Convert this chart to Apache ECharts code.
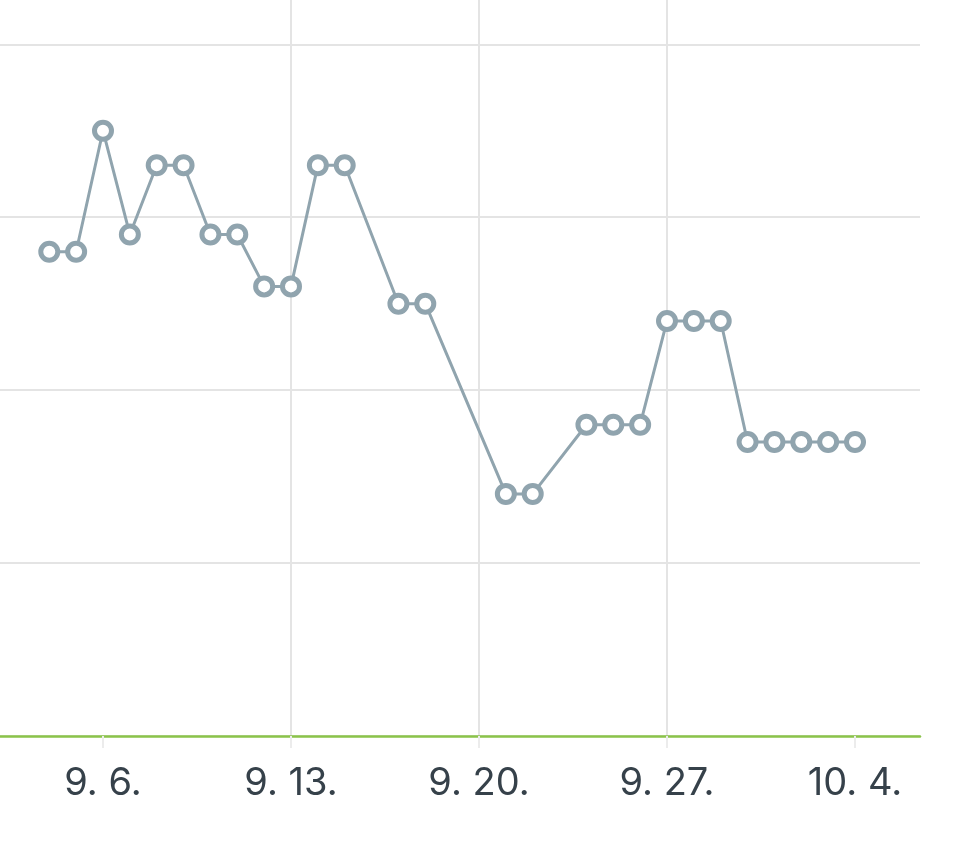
<!DOCTYPE html>
<html>
<head>
<meta charset="utf-8">
<script src="https://cdn.jsdelivr.net/npm/echarts@6/dist/echarts.min.js"></script>
<style>
  html, body { margin: 0; padding: 0; background: #fff; }
  #chart { width: 964px; height: 847px; }
</style>
</head>
<body>
<div id="chart"></div>
<script>
// dates with a reading (some days are missing in the source)
const dates = ['9.4', '9.5', '9.6', '9.7', '9.8', '9.9', '9.10', '9.11', '9.12', '9.13', '9.14', '9.15',
  '9.17', '9.18', '9.21', '9.22', '9.24', '9.25', '9.26', '9.27', '9.28', '9.29', '9.30',
  '10.1', '10.2', '10.3', '10.4'];
const values = [70, 70, 87.5, 72.5, 82.5, 82.5, 72.5, 72.5, 65, 65, 82.5, 82.5,
  62.5, 62.5, 35, 35, 45, 45, 45, 60, 60, 60, 42.5,
  42.5, 42.5, 42.5, 42.5];

// x axis ticks
const tickDates = ['9.6', '9.13', '9.20', '9.27', '10.4'];
const tickLabels = ['9. 6.', '9. 13.', '9. 20.', '9. 27.', '10. 4.'];

// day number: Sep d -> d, Oct d -> 30 + d
function toDay(s) {
  const [m, d] = s.split('.').map(Number);
  return m === 9 ? d : 30 + d;
}

const tickDays = tickDates.map(toDay);
const seriesData = dates.map((d, i) => [toDay(d), values[i]]);

const chart = echarts.init(document.getElementById('chart'));
chart.setOption({
  animation: false,
  grid: { left: 0, right: 44, top: 0, bottom: 111 },
  xAxis: {
    type: 'value',
    min: 2.165,
    max: 36.42,
    axisLine: { show: true, lineStyle: { color: '#8bc34a', width: 2.5 } },
    axisTick: {
      show: true,
      customValues: tickDays,
      length: 12,
      lineStyle: { color: '#ececec', width: 2 }
    },
    axisLabel: {
      customValues: tickDays,
      margin: 29,
      fontSize: 38,
      fontFamily: 'Inter',
      color: '#36414a',
      formatter: (v) => tickLabels[tickDays.indexOf(v)] || ''
    },
    splitLine: {
      show: true,
      showMinLine: false,
      showMaxLine: false,
      lineStyle: { color: '#e4e4e4', width: 2 }
    }
  },
  yAxis: {
    type: 'value',
    min: 0,
    max: 106.4,
    interval: 25,
    axisLine: { show: false },
    axisTick: { show: false },
    axisLabel: { show: false },
    splitLine: {
      show: true,
      showMaxLine: false,
      lineStyle: { color: '#e4e4e4', width: 2 }
    }
  },
  series: [{
    type: 'line',
    data: seriesData,
    symbol: 'circle',
    symbolSize: 17,
    showAllSymbol: true,
    lineStyle: { color: '#90a4ae', width: 3 },
    itemStyle: { color: '#fff', borderColor: '#90a4ae', borderWidth: 5 }
  }]
});
</script>
</body>
</html>
